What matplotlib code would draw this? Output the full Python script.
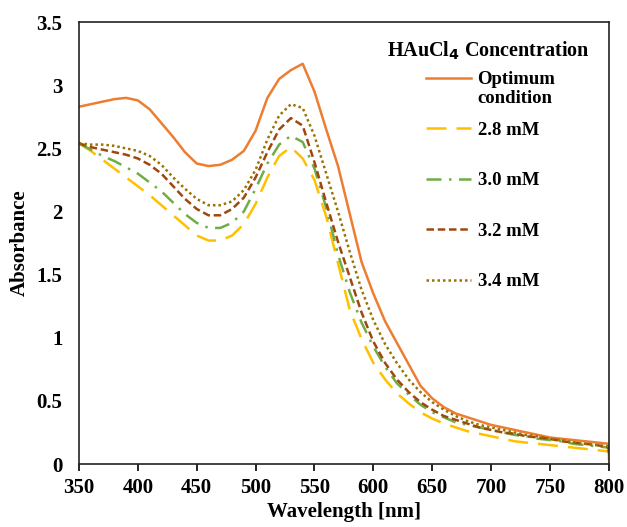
import matplotlib
matplotlib.use("Agg")
import matplotlib.pyplot as plt

plt.rcParams['font.family'] = ['Liberation Serif', 'DejaVu Serif']
plt.rcParams['font.weight'] = 'bold'

# wavelength grid (nm); the last point repeats 800 nm where the traces drop off
wavelength = list(range(350, 801, 10)) + [800]

optimum = [2.83, 2.85, 2.87, 2.89, 2.90, 2.88, 2.81, 2.70, 2.59, 2.47,
           2.38, 2.36, 2.37, 2.41, 2.48, 2.64, 2.90, 3.05, 3.12, 3.17,
           2.95, 2.65, 2.36, 1.98, 1.60, 1.35, 1.13, 0.96, 0.79, 0.62,
           0.52, 0.45, 0.40, 0.37, 0.34, 0.31, 0.29, 0.27, 0.25, 0.23,
           0.21, 0.20, 0.19, 0.18, 0.17, 0.16, 0.12]
mM_2_8 = [2.54, 2.48, 2.41, 2.34, 2.27, 2.20, 2.13, 2.05, 1.97, 1.89,
          1.81, 1.77, 1.77, 1.81, 1.90, 2.06, 2.27, 2.44, 2.51, 2.42,
          2.25, 1.96, 1.59, 1.22, 0.99, 0.80, 0.67, 0.56, 0.48, 0.41,
          0.36, 0.32, 0.29, 0.26, 0.24, 0.22, 0.20, 0.18, 0.17, 0.16,
          0.15, 0.14, 0.13, 0.12, 0.11, 0.10, 0.01]
mM_3_0 = [2.54, 2.49, 2.44, 2.40, 2.35, 2.30, 2.23, 2.16, 2.07, 1.98,
          1.91, 1.87, 1.87, 1.91, 2.00, 2.18, 2.38, 2.53, 2.60, 2.55,
          2.34, 2.03, 1.66, 1.36, 1.12, 0.93, 0.77, 0.64, 0.55, 0.47,
          0.41, 0.37, 0.33, 0.31, 0.29, 0.27, 0.25, 0.23, 0.22, 0.20,
          0.19, 0.18, 0.16, 0.15, 0.14, 0.13, 0.08]
mM_3_2 = [2.54, 2.51, 2.49, 2.47, 2.45, 2.42, 2.37, 2.30, 2.20, 2.10,
          2.02, 1.97, 1.97, 2.02, 2.11, 2.27, 2.47, 2.65, 2.74, 2.68,
          2.39, 2.07, 1.76, 1.48, 1.20, 0.97, 0.80, 0.67, 0.57, 0.49,
          0.43, 0.38, 0.35, 0.32, 0.29, 0.27, 0.25, 0.24, 0.22, 0.21,
          0.20, 0.18, 0.17, 0.16, 0.15, 0.13, 0.09]
mM_3_4 = [2.54, 2.53, 2.53, 2.52, 2.50, 2.48, 2.44, 2.37, 2.27, 2.18,
          2.10, 2.05, 2.05, 2.08, 2.17, 2.33, 2.57, 2.76, 2.85, 2.82,
          2.60, 2.30, 2.00, 1.68, 1.38, 1.14, 0.95, 0.80, 0.67, 0.57,
          0.49, 0.43, 0.38, 0.34, 0.31, 0.29, 0.27, 0.25, 0.23, 0.22,
          0.20, 0.19, 0.17, 0.16, 0.15, 0.14, 0.09]

x_ticks = [350, 400, 450, 500, 550, 600, 650, 700, 750, 800]
y_ticks = [0, 0.5, 1, 1.5, 2, 2.5, 3, 3.5]
y_tick_labels = ['0', '0.5', '1', '1.5', '2', '2.5', '3', '3.5']

fig = plt.figure(figsize=(6.27, 5.27), dpi=100)
ax = fig.add_axes([0.126, 0.1195, 0.845, 0.8385])

lw = 1.8
ax.plot(wavelength, optimum, color='#ED7D31', lw=lw, label='Optimum')
ax.plot(wavelength, mM_2_8, color='#FFC000', lw=lw, dashes=(8, 4), label='2.8 mM')
ax.plot(wavelength, mM_3_0, color='#70AD47', lw=lw, dashes=(6, 3, 1, 3), label='3.0 mM')
ax.plot(wavelength, mM_3_2, color='#9E480E', lw=lw, dashes=(3, 1.5), label='3.2 mM')
ax.plot(wavelength, mM_3_4, color='#997300', lw=lw, dashes=(1, 1.2), label='3.4 mM')

ax.set_xlim(350, 800)
ax.set_ylim(0, 3.5)
ax.set_xticks(x_ticks)
ax.set_yticks(y_ticks)
ax.set_yticklabels(y_tick_labels)
ax.tick_params(axis='x', direction='out', length=5, width=1.2, labelsize=15, pad=5)
ax.tick_params(axis='y', length=0, labelsize=15, pad=12)
for lab in ax.get_xticklabels() + ax.get_yticklabels():
    lab.set_fontweight('bold')
for s in ax.spines.values():
    s.set_linewidth(1.2)
    s.set_color('#222222')

ax.set_xlabel('Wavelength [nm]', fontsize=15, fontweight='bold', labelpad=3)
ax.set_ylabel('Absorbance', fontsize=15, fontweight='bold', labelpad=5)

# legend title, then the entries (Excel style: fixed row height)
ax.text(0.772, 0.934, 'HAuCl$_\\mathbf{4}$ Concentration', transform=ax.transAxes,
        ha='center', va='center', fontsize=14.5, fontweight='bold')
leg = ax.legend(loc='upper left', bbox_to_anchor=(0.655, 0.889), frameon=False,
                prop={'size': 13.5, 'weight': 'bold'}, borderpad=0, borderaxespad=0,
                handlelength=2.4, handletextpad=0.35, labelspacing=1.78)
# second line of the first label, drawn after the legend so it follows its position
ax.annotate('condition', xy=(0, 0), xycoords=leg.get_texts()[0],
            xytext=(0, -1), textcoords='offset points', ha='left', va='top',
            fontsize=13.5, fontweight='bold', zorder=10)

fig.savefig('out.png', dpi=100)
